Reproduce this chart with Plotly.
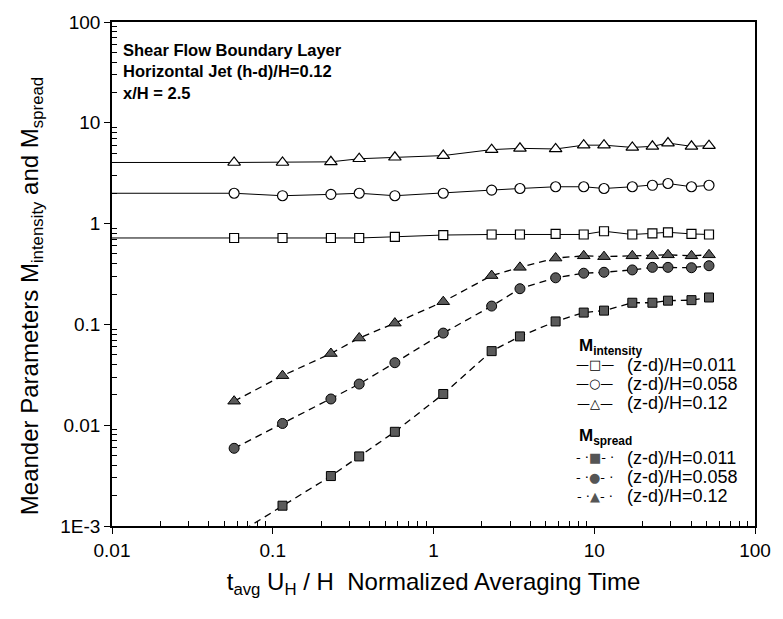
import plotly.graph_objects as go

# ---- data ----
t_norm = [0.0575, 0.115, 0.23, 0.345, 0.575, 1.15, 2.3, 3.45, 5.75, 8.6,
          11.5, 17.25, 23, 28.75, 40.25, 51.75]

int_011 = [0.72, 0.72, 0.72, 0.72, 0.74, 0.77, 0.78, 0.78, 0.79, 0.78,
           0.84, 0.78, 0.80, 0.82, 0.79, 0.78]
int_058 = [2.0, 1.89, 1.95, 2.0, 1.89, 2.0, 2.15, 2.23, 2.32, 2.32,
           2.23, 2.32, 2.4, 2.5, 2.32, 2.4]
int_012 = [4.04, 4.04, 4.1, 4.4, 4.55, 4.73, 5.42, 5.58, 5.5, 6.0,
           6.0, 5.7, 5.84, 6.3, 5.84, 5.93]

spr_011 = [0.0008, 0.00159, 0.00313, 0.0049, 0.0086, 0.0204, 0.0543, 0.076,
           0.107, 0.131, 0.137, 0.164, 0.164, 0.172, 0.174, 0.185]
spr_058 = [0.0059, 0.0104, 0.0182, 0.0256, 0.0417, 0.082, 0.152, 0.226,
           0.29, 0.322, 0.329, 0.347, 0.368, 0.368, 0.365, 0.382]
spr_012 = [0.0173, 0.031, 0.0514, 0.0733, 0.103, 0.168, 0.305, 0.368,
           0.455, 0.479, 0.47, 0.479, 0.479, 0.49, 0.479, 0.49]

series_labels = ["(z-d)/H=0.011", "(z-d)/H=0.058", "(z-d)/H=0.12"]
group_titles = ["M<sub>intensity</sub>", "M<sub>spread</sub>"]
x_ticks = [0.01, 0.1, 1, 10, 100]
x_ticktext = ["0.01", "0.1", "1", "10", "100"]
y_ticks = [0.001, 0.01, 0.1, 1, 10, 100]
y_ticktext = ["1E-3", "0.01", "0.1", "1", "10", "100"]
notes = ["Shear Flow Boundary Layer", "Horizontal Jet (h-d)/H=0.12", "x/H = 2.5"]
x_title = "t<sub>avg</sub> U<sub>H</sub> / H  Normalized Averaging Time"
y_title = "Meander Parameters M<sub>intensity</sub> and M<sub>spread</sub>"
x_left = 0.001  # intensity lines run in from the left axis

FONT = "Liberation Sans, Arial, Helvetica, sans-serif"
W, H = 783, 619
L, R, T, B = 112, 20, 15, 93
PW, PH = W - L - R, H - T - B


def px_x(p):
    return (p - L) / PW


def px_y(p):
    return (H - B - p) / PH


fig = go.Figure()

fill_syms = ["square", "circle", "triangle-up"]
sizes = [9, 10, 11]

# lead-in lines for intensity series
for vals in [int_011, int_058, int_012]:
    fig.add_trace(go.Scatter(x=[x_left, t_norm[0]], y=[vals[0], vals[0]],
                             mode="lines", line=dict(color="black", width=1),
                             showlegend=False, hoverinfo="skip"))

for i, vals in enumerate([int_011, int_058, int_012]):
    fig.add_trace(go.Scatter(
        x=t_norm, y=vals, mode="lines+markers", name=series_labels[i], showlegend=False,
        line=dict(color="black", width=1),
        marker=dict(symbol=fill_syms[i], size=sizes[i], color="white",
                    line=dict(color="black", width=1.2))))

for i, vals in enumerate([spr_011, spr_058, spr_012]):
    fig.add_trace(go.Scatter(
        x=t_norm, y=vals, mode="lines+markers", name=series_labels[i], showlegend=False,
        line=dict(color="black", width=1.3, dash="7px,5px"),
        marker=dict(symbol=fill_syms[i], size=sizes[i], color="#5a5a5a",
                    line=dict(color="black", width=1))))

# top-left notes
for k, txt in enumerate(notes):
    fig.add_annotation(text="<b>" + txt + "</b>", xref="paper", yref="paper",
                       x=px_x(121), y=px_y(43 + k * 22), xanchor="left", yanchor="middle",
                       showarrow=False, font=dict(family=FONT, size=16.5, color="black"))

# y title
fig.add_annotation(text=y_title, xref="paper", yref="paper", textangle=-90,
                   x=px_x(30), y=px_y(293), xanchor="center", yanchor="middle",
                   showarrow=False, font=dict(family=FONT, size=24, color="black"))

# custom legend (text keys)
KEYF = "DejaVu Sans, sans-serif"
open_glyph = ["\u25a1", "\u25cb", "\u25b3"]
fill_glyph = ["\u25a0", "\u25cf", "\u25b2"]
header_y = [345, 436]
row_y = [[362.5, 382, 401.5], [457, 476.5, 496]]
for g in range(2):
    fig.add_annotation(text="<b>" + group_titles[g] + "</b>", xref="paper", yref="paper",
                       x=px_x(583), y=px_y(header_y[g]), xanchor="left", yanchor="middle",
                       showarrow=False, font=dict(family=FONT, size=17, color="black"))
    for i, lab in enumerate(series_labels):
        if g == 0:
            key = "\u2014" + open_glyph[i] + "\u2014"
        else:
            key = "- \u00b7<span style='color:#555'>" + fill_glyph[i] + "</span>- \u00b7"
        fig.add_annotation(text=key, xref="paper", yref="paper",
                           x=px_x(601), y=px_y(row_y[g][i]), xanchor="center", yanchor="middle",
                           showarrow=False, font=dict(family=KEYF, size=13, color="black"))
        fig.add_annotation(text=lab, xref="paper", yref="paper",
                           x=px_x(631), y=px_y(row_y[g][i]), xanchor="left", yanchor="middle",
                           showarrow=False, font=dict(family=FONT, size=18, color="black"))

minor_vals = [m * 10.0 ** e for e in range(-3, 2) for m in range(2, 10)]

base = dict(type="log", showgrid=False, zeroline=False, showline=True,
            linecolor="black", linewidth=1.5, tickcolor="black", tickwidth=1.3)

fig.update_xaxes(range=[-2, 2], tickvals=x_ticks, ticktext=x_ticktext, ticks="outside",
                 ticklen=6, mirror=True,
                 tickfont=dict(family=FONT, size=19, color="black"),
                 minor=dict(tickvals=minor_vals, ticks="inside", ticklen=5,
                            tickwidth=1, tickcolor="black", showgrid=False),
                 title=dict(text=x_title, font=dict(family=FONT, size=24, color="black"),
                            standoff=14),
                 **base)
fig.update_yaxes(range=[-3, 2], tickvals=y_ticks, ticktext=y_ticktext, ticks="outside",
                 ticklen=6, mirror=True,
                 tickfont=dict(family=FONT, size=19, color="black"),
                 minor=dict(tickvals=minor_vals, ticks="inside", ticklen=5,
                            tickwidth=1, tickcolor="black", showgrid=False),
                 **base)

fig.update_layout(
    width=W, height=H, margin=dict(l=L, r=R, t=T, b=B),
    plot_bgcolor="white", paper_bgcolor="white",
    font=dict(family=FONT, color="black"), showlegend=False,
    xaxis2=dict(overlaying="x", side="top", anchor="y", range=[-2, 2], tickvals=x_ticks,
                ticks="inside", ticklen=7, showticklabels=False,
                minor=dict(tickvals=minor_vals, ticks="inside", ticklen=5,
                           tickwidth=1, tickcolor="black", showgrid=False), **base),
    yaxis2=dict(overlaying="y", side="right", anchor="x", range=[-3, 2], tickvals=y_ticks,
                ticks="inside", ticklen=7, showticklabels=False,
                minor=dict(tickvals=minor_vals, ticks="inside", ticklen=5,
                           tickwidth=1, tickcolor="black", showgrid=False), **base),
)

fig.write_html("out.html")
